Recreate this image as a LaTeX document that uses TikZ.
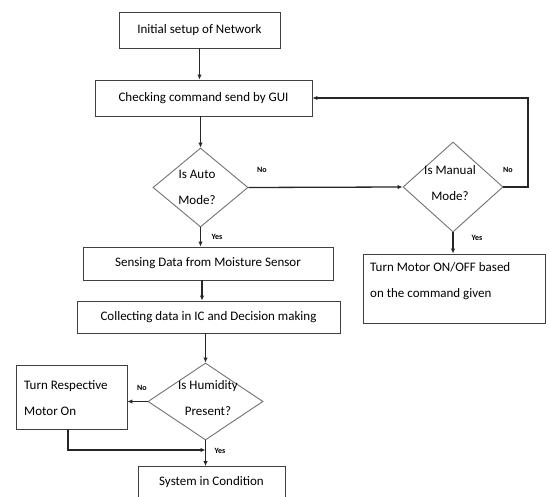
\documentclass[tikz,border=0pt]{standalone}
\usepackage{fontspec}
\setmainfont{Carlito}
\usetikzlibrary{shapes.geometric,arrows.meta}
\begin{document}
\begin{tikzpicture}[x=1pt,y=-1pt,
  box/.style={draw=black!75,line width=0.9pt,rectangle,inner sep=0pt,font=\fontsize{13}{26}\selectfont},
  dia/.style={draw=black!55,line width=0.9pt,diamond,inner sep=0pt},
  dtext/.style={align=center,font=\fontsize{13}{26}\selectfont,inner sep=0pt},
  lbl/.style={font=\fontsize{8}{10}\selectfont\bfseries,inner sep=0pt},
  conn/.style={draw=black!85,line width=1.3pt,-{Latex[length=5pt,width=4.5pt]}}]
\useasboundingbox[fill=white] (0,0) rectangle (549,497);
% nodes
\node[box,minimum width=161,minimum height=36] (b1) at (199.5,30) {Initial setup of Network};
\node[box,minimum width=217,minimum height=36] (b2) at (203.5,98) {Checking command send by GUI};
\node[dia,minimum width=95,minimum height=79] (d1) at (200.5,187.5) {};
\node[dtext] (t1) at (197,187) {Is Auto\\Mode?};
\node[dia,minimum width=100,minimum height=90] (d2) at (453,187) {};
\node[dtext] (t2) at (450,183) {Is Manual\\Mode?};
\node[box,minimum width=250,minimum height=33] (s) at (208,263.5) {Sensing Data from Moisture Sensor};
\node[box,minimum width=182,minimum height=69] (m) at (454,288.5) {};
\node[dtext,anchor=north west,align=left] (mt) at (370,262) {Turn Motor ON/OFF based\\on the command given};
\node[box,minimum width=263,minimum height=32] (c) at (208.5,317) {Collecting data in IC and Decision making};
\node[dia,minimum width=115,minimum height=77] (d3) at (205.5,401.5) {};
\node[dtext] (t3) at (208,398) {Is Humidity\\Present?};
\node[box,minimum width=111,minimum height=64] (r) at (71.5,397) {};
\node[dtext,anchor=west,align=left] (rt) at (24,398.5) {Turn Respective\\Motor On};
\node[box,minimum width=147,minimum height=31] (sys) at (211.5,482) {System in Condition};
% labels
\node[lbl] (l1) at (262,170) {No};
\node[lbl] (l2) at (217,237) {Yes};
\node[lbl] (l3) at (508,170) {No};
\node[lbl] (l4) at (477,238) {Yes};
\node[lbl] (l5) at (142,388) {No};
\node[lbl] (l6) at (220,451) {Yes};
% connectors
\coordinate (lp) at (528,187);
\coordinate (j) at (68,450);
\draw[conn] (b1.south) -- (b1.south |- b2.north);
\draw[conn] (b2.south -| d1.north) -- (d1.north);
\draw[conn] (d1.south) -- (d1.south |- s.north);
\draw[conn] ([xshift=-6]s.south) -- ([xshift=-6]s.south |- c.north);
\draw[conn] (c.south -| d3.north) -- (d3.north);
\draw[conn] (d1.east) -- (d2.west);
\draw[conn] (d2.east) -- (lp) |- (b2.east);
\draw[conn] (d2.south) -- (d2.south |- m.north);
\draw[conn] (d3.west) -- (d3.west -| r.east);
\draw[conn] (r.south -| j) -- (j) -- (j -| d3.south);
\draw[conn] (d3.south) -- (d3.south |- sys.north);
\end{tikzpicture}
\end{document}
